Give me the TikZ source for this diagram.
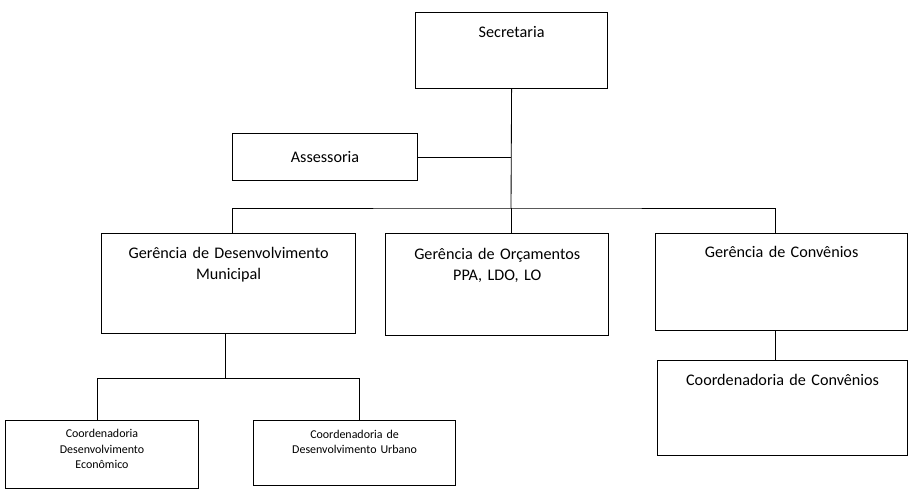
\documentclass[tikz,border=0pt]{standalone}
\usepackage{fontspec}
\setmainfont{Carlito}
\usetikzlibrary{positioning}

\newcommand{\toptext}[3][7pt]{\vbox to #2{\vskip#1\centering #3\par\vfil}}

\begin{document}
\begin{tikzpicture}[x=0.025cm,y=-0.025cm,
  box/.style={draw,thick,anchor=north west,inner sep=0pt,align=center,font=\fontsize{11.5}{15}\selectfont},
  small/.style={box,font=\fontsize{8.5}{11}\selectfont},
  link/.style={draw,semithick}]
  \useasboundingbox (0,0) rectangle (919,495);

  \node[box,minimum width=4.8cm,minimum height=1.9cm,text width=4.8cm] (sec) at (415,12)
    {\toptext{1.7cm}{Secretaria}};
  \node[box,minimum width=4.62cm,minimum height=1.18cm] (ass) at (232,133) {Assessoria};

  \node[box,minimum width=6.35cm,minimum height=2.5cm,text width=6.35cm] (gdm) at (101,233)
    {\toptext{2.3cm}{Gerência de Desenvolvimento\\Municipal}};
  \node[box,minimum width=5.58cm,minimum height=2.55cm,text width=5.58cm] (gor) at (385,233)
    {\toptext{2.3cm}{Gerência de Orçamentos\\PPA, LDO, LO}};
  \node[box,minimum width=6.3cm,minimum height=2.42cm,text width=6.3cm] (gcv) at (655,233)
    {\toptext{2.3cm}{Gerência de Convênios}};
  \node[box,minimum width=6.25cm,minimum height=2.38cm,text width=6.25cm] (ccv) at (657,360)
    {\toptext{2.2cm}{Coordenadoria de Convênios}};

  \node[small,minimum width=4.82cm,minimum height=1.7cm,text width=4.82cm] (cde) at (5,420)
    {\toptext[5pt]{1.6cm}{Coordenadoria\\Desenvolvimento\\Econômico}};
  \node[small,minimum width=5.05cm,minimum height=1.62cm,text width=5.05cm] (cdu) at (253,420)
    {\toptext[5pt]{1.5cm}{Coordenadoria de\\Desenvolvimento Urbano}};

  \coordinate (t) at (511,208);
  \coordinate (b) at (225,378);
  \path[link] (sec.south) -- (t);
  \path[link] (ass.east) -- (ass.east -| t);
  \path[link] (gdm.north -| 232,0) |- (t) -| (gcv.north -| 775,0);
  \path[link] (t) -- (gor.north -| t);
  \path[link] (gcv.south -| 775,0) -- (ccv.north -| 775,0);
  \path[link] (gdm.south -| b) -- (b);
  \path[link] (cde.north -| 97,0) |- (b) -| (cdu.north -| 359,0);
\end{tikzpicture}
\end{document}
